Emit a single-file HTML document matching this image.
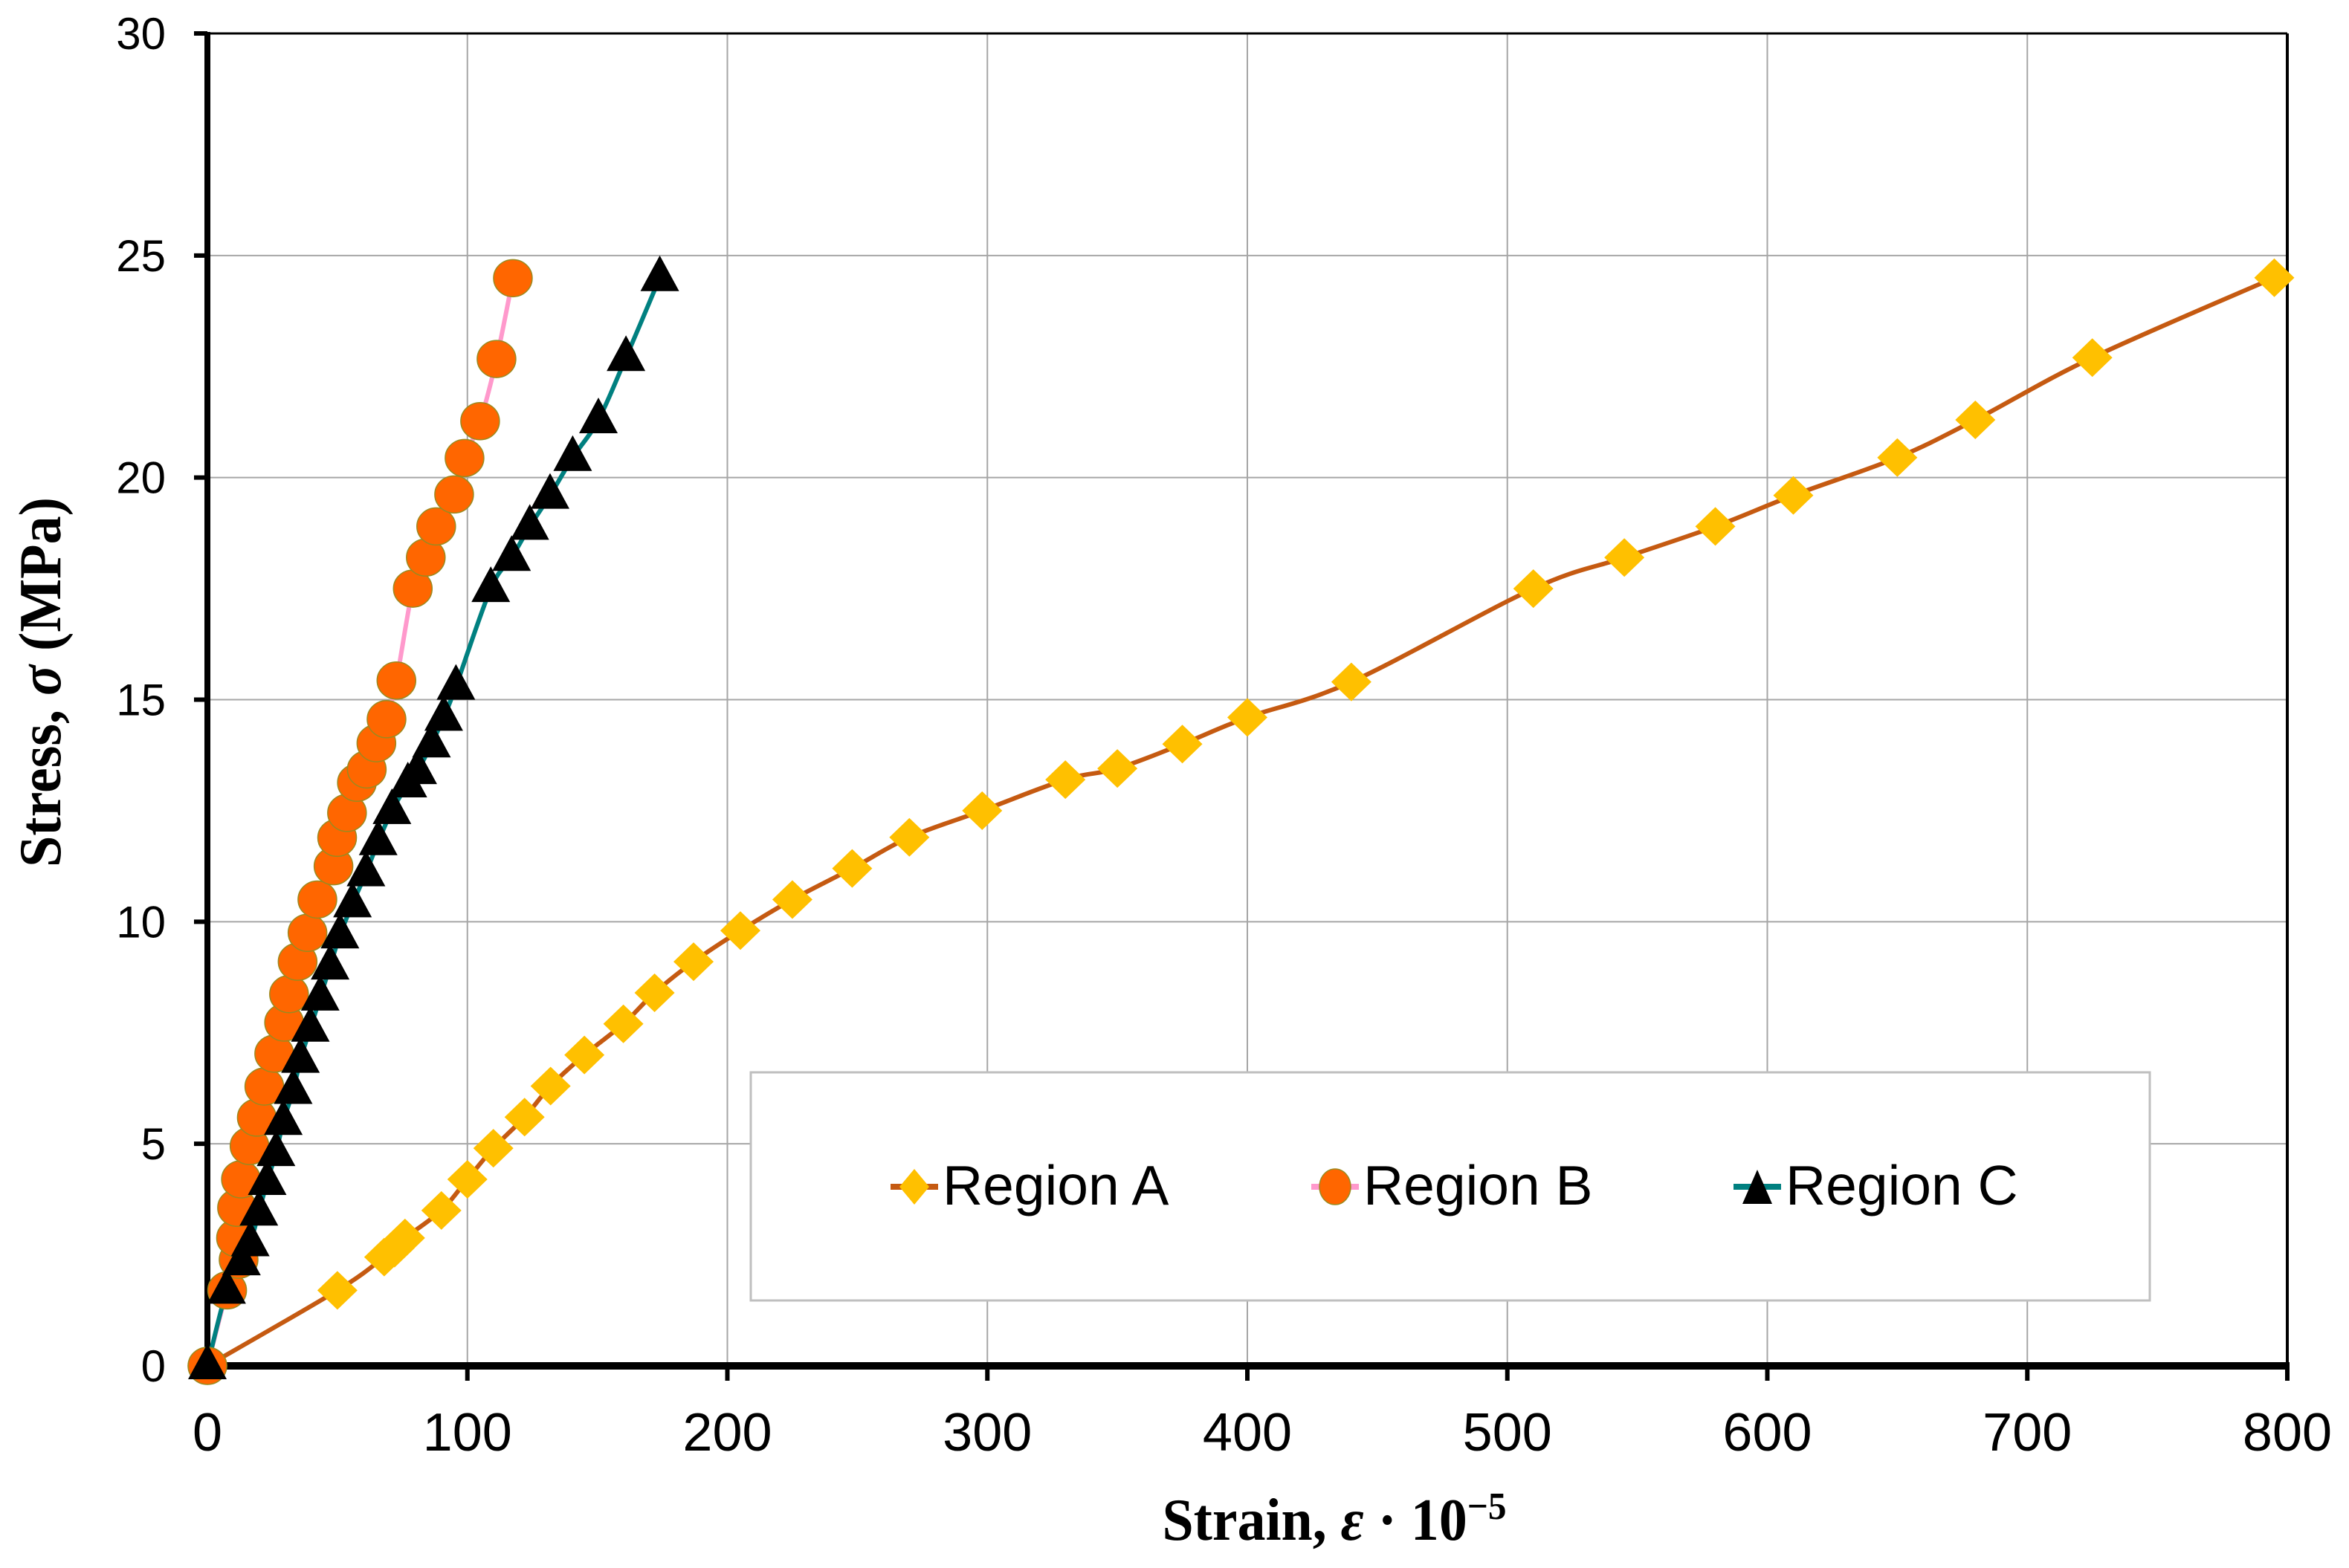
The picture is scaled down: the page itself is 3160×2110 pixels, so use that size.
<!DOCTYPE html>
<html><head><meta charset="utf-8"><style>
html,body{margin:0;padding:0;background:#fff;}
svg{display:block;}
</style></head><body>
<svg id="chart" width="3160" height="2110" viewBox="0 0 3160 2110" xmlns="http://www.w3.org/2000/svg">
<rect x="0" y="0" width="3160" height="2110" fill="#fff"/>
<g id="grid"></g>
<g id="axes"></g>
<g id="series"></g>
<g id="legend">
<rect x="1010" y="1443" width="1882" height="307" fill="#fff" stroke="#bfbfbf" stroke-width="3"/>
</g>
<text x="1795" y="2072" font-family="Liberation Serif, serif" font-weight="bold" font-size="80" text-anchor="middle" textLength="463" lengthAdjust="spacingAndGlyphs">Strain, <tspan font-style="italic">ε</tspan> · 10<tspan dy="-28" font-size="52">−5</tspan></text>
<text transform="translate(81,918) rotate(-90)" x="0" y="0" font-family="Liberation Serif, serif" font-weight="bold" font-size="80" text-anchor="middle" textLength="498" lengthAdjust="spacingAndGlyphs">Stress, <tspan font-style="italic">σ</tspan> (MPa)</text>
</svg>
<script>
const xTicks = [0,100,200,300,400,500,600,700,800];
const yTicks = [0,5,10,15,20,25,30];
const seriesNames = ['Region A','Region B','Region C'];
const aX = [0,50,68,72,76,90,100,110,122,132,145,160,172,187,205,225,248,270,298,330,350,375,400,440,510,545,580,610,650,680,725,795];
const aY = [0,1.7,2.45,2.65,2.88,3.5,4.2,4.9,5.6,6.3,7.0,7.7,8.4,9.1,9.8,10.5,11.2,11.9,12.5,13.2,13.45,14.0,14.6,15.4,17.5,18.2,18.9,19.6,20.45,21.3,22.7,24.5];
const bX = [0,7.6,12,11,11.4,12.9,16.2,19,21.9,25.7,29.5,31.4,34.7,38.5,42.3,48.5,49.9,53.7,57.5,61.3,65,68.9,72.7,79,84,88,94.9,98.9,104.9,111.2,117.5];
const bY = [0,1.7,2.39,2.88,3.56,4.2,4.95,5.59,6.29,7.03,7.73,8.37,9.1,9.75,10.5,11.25,11.89,12.45,13.13,13.43,14.02,14.56,15.43,17.5,18.2,18.9,19.62,20.44,21.27,22.67,24.49];
const cX = [0,7.4,13.1,16.5,19.8,23,26.4,29.2,33,35.8,39.6,43.4,47.2,51,55.8,61,65.7,71,77.1,80.9,86.2,90.9,95.6,109,117,124,131.8,140.5,150.4,161,174];
const cY = [0,1.7,2.34,2.77,3.46,4.15,4.8,5.5,6.2,6.9,7.6,8.3,9.0,9.7,10.4,11.1,11.8,12.5,13.1,13.4,14.0,14.6,15.3,17.5,18.2,18.9,19.6,20.45,21.3,22.7,24.5];

const X0=279, X1=3077, Y0=1838, Y1=45;
function sx(v){return X0+(v-xTicks[0])/(xTicks[xTicks.length-1]-xTicks[0])*(X1-X0);}
function sy(v){return Y0-(v-yTicks[0])/(yTicks[yTicks.length-1]-yTicks[0])*(Y0-Y1);}
const NS='http://www.w3.org/2000/svg';
function mk(tag,attrs,parent){const e=document.createElementNS(NS,tag);for(const k in attrs)e.setAttribute(k,attrs[k]);parent.appendChild(e);return e;}
const grid=document.getElementById('grid'), axes=document.getElementById('axes'), ser=document.getElementById('series'), leg=document.getElementById('legend');

xTicks.forEach(t=>{
  if(t>xTicks[0]&&t<xTicks[xTicks.length-1]){
    const l=mk('line',{x1:sx(t),x2:sx(t),y1:Y1,y2:Y0,stroke:'#a6a6a6','stroke-width':2},grid);
    
    
  }
  const tk=mk('line',{x1:sx(t),x2:sx(t),y1:Y0,y2:Y0+20,stroke:'#000','stroke-width':6},axes);
  
  
  const tx=mk('text',{x:sx(t),y:1952,'font-family':'Liberation Sans, sans-serif','font-size':72,'text-anchor':'middle'},axes);
  tx.textContent=t;
  
  
});
yTicks.forEach(t=>{
  if(t>yTicks[0]&&t<yTicks[yTicks.length-1]){
    const l=mk('line',{x1:X0,x2:X1,y1:sy(t),y2:sy(t),stroke:'#a6a6a6','stroke-width':2},grid);
    
    
  }
  const tk=mk('line',{x1:X0-18,x2:X0,y1:sy(t),y2:sy(t),stroke:'#000','stroke-width':6},axes);
  
  
  const tx=mk('text',{x:223,y:sy(t)+21,'font-family':'Liberation Sans, sans-serif','font-size':60,'text-anchor':'end'},axes);
  tx.textContent=t;
  
  
});
const topBorder=mk('line',{x1:X0,x2:X1,y1:Y1,y2:Y1,stroke:'#000','stroke-width':3},axes);


const rightBorder=mk('line',{x1:X1,x2:X1,y1:Y1,y2:Y0,stroke:'#000','stroke-width':4},axes);


const yax=mk('line',{x1:X0,x2:X0,y1:Y1-2,y2:Y0+4,stroke:'#000','stroke-width':8},axes);


const xax=mk('line',{x1:X0-4,x2:X1+3,y1:Y0,y2:Y0,stroke:'#000','stroke-width':10},axes);



function smoothPath(pts){
  let d='M'+pts[0][0]+','+pts[0][1];
  for(let i=0;i<pts.length-1;i++){
    const p0=pts[Math.max(0,i-1)],p1=pts[i],p2=pts[i+1],p3=pts[Math.min(pts.length-1,i+2)];
    const c1=[p1[0]+(p2[0]-p0[0])/6,p1[1]+(p2[1]-p0[1])/6];
    const c2=[p2[0]-(p3[0]-p1[0])/6,p2[1]-(p3[1]-p1[1])/6];
    d+=' C'+c1[0]+','+c1[1]+' '+c2[0]+','+c2[1]+' '+p2[0]+','+p2[1];
  }
  return d;
}
function marker(kind,cx,cy,g){
  let e;
  if(kind==='diamond') e=mk('polygon',{points:`${cx},${cy-26} ${cx+27},${cy} ${cx},${cy+26} ${cx-27},${cy}`,fill:'#FFC000'},g);
  else if(kind==='circle') e=mk('ellipse',{cx:cx,cy:cy,rx:26,ry:25,fill:'#FF6600',stroke:'#9a8a20','stroke-width':1.5},g);
  else e=mk('polygon',{points:`${cx},${cy-30} ${cx+26},${cy+18} ${cx-26},${cy+18}`,fill:'#000'},g);
  return e;
}
const defs=[
  {name:'region-a',xs:aX,ys:aY,line:'#C55A11',kind:'diamond'},
  {name:'region-b',xs:bX,ys:bY,line:'#FF99CC',kind:'circle'},
  {name:'region-c',xs:cX,ys:cY,line:'#008080',kind:'triangle'}
];
defs.forEach(s=>{
  const g=mk('g',{},ser);
  
  
  const pts=s.xs.map((v,i)=>[sx(v),sy(s.ys[i])]);
  const p=mk('path',{d:smoothPath(pts),fill:'none',stroke:s.line,'stroke-width':6,'stroke-linejoin':'round'},g);
  
  
});
defs.forEach(s=>{
  const g=mk('g',{},ser);
  
  
  s.xs.forEach((v,i)=>{
    const m=marker(s.kind,sx(v),sy(s.ys[i]),g);
    
    
  });
});
const legX=[1230,1796,2364];
defs.forEach((s,i)=>{
  const g=mk('g',{},leg);
  
  
  const l=mk('line',{x1:legX[i]-32,x2:legX[i]+32,y1:1597,y2:1597,stroke:s.line,'stroke-width':8},g);
  
  
  let m;
  if(s.kind==='diamond') m=mk('polygon',{points:`${legX[i]},1573 ${legX[i]+20},1597 ${legX[i]},1621 ${legX[i]-20},1597`,fill:'#FFC000'},g);
  else if(s.kind==='circle') m=mk('ellipse',{cx:legX[i],cy:1597,rx:21,ry:24,fill:'#FF6600',stroke:'#9a8a20','stroke-width':1.5},g);
  else m=mk('polygon',{points:`${legX[i]},1574 ${legX[i]+20},1620 ${legX[i]-20},1620`,fill:'#000'},g);
  
  
  const t=mk('text',{x:legX[i]+38,y:1621,'font-family':'Liberation Sans, sans-serif','font-size':75},g);
  t.textContent=seriesNames[i];
  
  
});
</script>
</body></html>
